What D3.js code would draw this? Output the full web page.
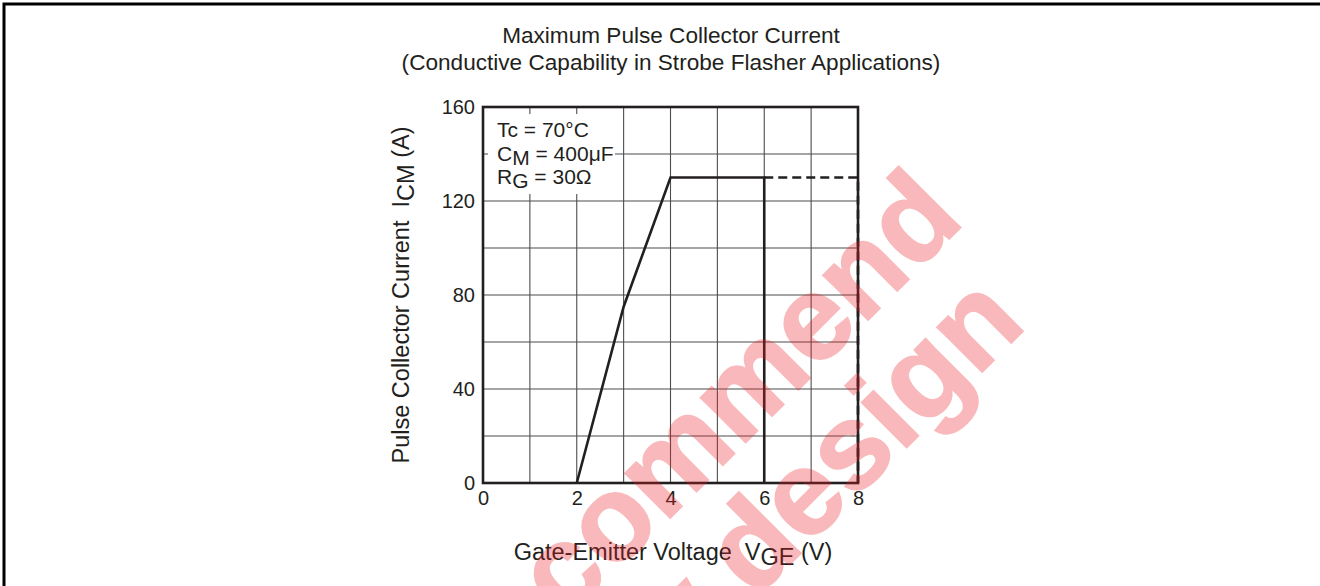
<!DOCTYPE html>
<html><head><meta charset="utf-8">
<script src="https://cdn.jsdelivr.net/npm/d3@7"></script>
<style>
body{margin:0;background:#fff}
svg{display:block}
text{font-family:"Liberation Sans",Arial,Helvetica,sans-serif;fill:#231f20;white-space:pre}
</style>
</head><body>
<svg id="c" width="1320" height="586"></svg>
<script>
// ---- data ----
const xTicks = [0, 2, 4, 6, 8];
const yTicks = [0, 40, 80, 120, 160];
const xGrid = [0, 1, 2, 3, 4, 5, 6, 7, 8];
const yGrid = [0, 20, 40, 60, 80, 100, 120, 140, 160];
const solidX = [2, 3, 4, 6, 6];
const solidY = [0, 75, 130, 130, 0];
const dashedX = [6, 8, 8];
const dashedY = [130, 130, 0];
const titleLines = ["Maximum Pulse Collector Current", "(Conductive Capability in Strobe Flasher Applications)"];
const watermarkWords = ["Not recommend", "for new design"];

// ---- layout ----
const svg = d3.select("#c");
const L = 483, R = 858, T = 107, B = 483;
const x = d3.scaleLinear().domain([0, 8]).range([L, R]);
const y = d3.scaleLinear().domain([0, 160]).range([B, T]);

// outer frame
svg.append("path").attr("d", "M4,586V4H1320").attr("fill", "none").attr("stroke", "#000").attr("stroke-width", 3);

// title
svg.selectAll("text.title").data(titleLines).join("text").attr("class", "title")
  .attr("x", 671).attr("y", (d, i) => 43 + i * 27).attr("text-anchor", "middle")
  .style("font-size", "22.6px").text(d => d);

// grid
const g = svg.append("g");
g.selectAll("line.vx").data(xGrid).join("line").attr("class", "vx")
  .attr("x1", d => x(d)).attr("x2", d => x(d)).attr("y1", y(160)).attr("y2", y(0))
  .attr("stroke", "#4d4d4d").attr("stroke-width", 1.1);
g.selectAll("line.hy").data(yGrid).join("line").attr("class", "hy")
  .attr("y1", d => y(d)).attr("y2", d => y(d)).attr("x1", x(0)).attr("x2", x(8))
  .attr("stroke", "#4d4d4d").attr("stroke-width", 1.1);

// annotation box (white background hides grid)
svg.append("rect").attr("x", 488).attr("y", 114).attr("width", 127).attr("height", 80).attr("fill", "#fff");
const ann = svg.append("g").style("font-size", "21px");
ann.append("text").attr("x", 497).attr("y", 137).text("Tc = 70°C");
const a2 = ann.append("text").attr("x", 497).attr("y", 161);
a2.append("tspan").text("C");
a2.append("tspan").attr("dy", 4).text("M");
a2.append("tspan").attr("dy", -4).text(" = 400μF");
const a3 = ann.append("text").attr("x", 497).attr("y", 184);
a3.append("tspan").text("R");
a3.append("tspan").attr("dy", 4).text("G");
a3.append("tspan").attr("dy", -4).text(" = 30Ω");

// data lines
const line = d3.line().x(d => x(d[0])).y(d => y(d[1]));
svg.append("path").datum(dashedX.map((v, i) => [v, dashedY[i]]))
  .attr("d", line).attr("fill", "none").attr("stroke", "#231f20").attr("stroke-width", 2.6)
  .attr("stroke-dasharray", "9,5");
svg.append("path").datum(solidX.map((v, i) => [v, solidY[i]]))
  .attr("d", line).attr("fill", "none").attr("stroke", "#231f20").attr("stroke-width", 2.6)
  .attr("stroke-linejoin", "miter");

// plot border
svg.append("rect").attr("x", L).attr("y", T).attr("width", R - L).attr("height", B - T)
  .attr("fill", "none").attr("stroke", "#231f20").attr("stroke-width", 2.6);

// axes (labels only)
const xa = svg.append("g").attr("transform", `translate(0,${B})`)
  .call(d3.axisBottom(x).tickValues(xTicks).tickSize(0).tickPadding(8).tickFormat(d3.format("d")));
const ya = svg.append("g").attr("transform", `translate(${L},0)`)
  .call(d3.axisLeft(y).tickValues(yTicks).tickSize(0).tickPadding(8).tickFormat(d3.format("d")));
[xa, ya].forEach(a => {
  a.select(".domain").remove();
  a.selectAll("text").style("font-size", "20px").attr("fill", "#231f20")
    .style("font-family", '"Liberation Sans",Arial,sans-serif');
});

// axis titles
const xl = svg.append("text").attr("x", 673).attr("y", 560).attr("text-anchor", "middle").style("font-size", "23.5px");
xl.append("tspan").text("Gate-Emitter Voltage  V");
xl.append("tspan").attr("dy", 5).text("GE");
xl.append("tspan").attr("dy", -5).text(" (V)");

const yl = svg.append("text").attr("transform", "translate(409,295) rotate(-90)").attr("text-anchor", "middle").style("font-size", "23.5px");
yl.append("tspan").text("Pulse Collector Current  I");
yl.append("tspan").attr("dy", 5).text("CM");
yl.append("tspan").attr("dy", -5).text(" (A)");

// watermark (partly outside the page, as in the reference)
const wm = [[966, 222], [1028, 326]];
const wg = svg.append("g").attr("opacity", 0.3);
wg.selectAll("text.wm").data(watermarkWords).join("text").attr("class", "wm")
  .attr("transform", (d, i) => `translate(${wm[i][0]},${wm[i][1]}) rotate(-45)`)
  .attr("text-anchor", "end")
  .style("font-size", "120px").style("font-weight", "bold")
  .style("fill", "#ed1c24").style("stroke", "#ed1c24").style("stroke-width", 2)
  .text(d => d);
</script>
</body></html>
